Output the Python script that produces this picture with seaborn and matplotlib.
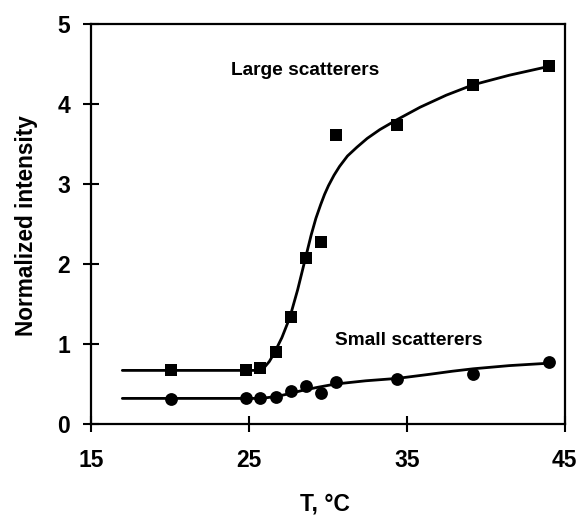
import numpy as np
import pandas as pd
import matplotlib
matplotlib.use("Agg")
import matplotlib.pyplot as plt
import seaborn as sns

# Measured points
temp = [20.1, 24.8, 25.7, 26.7, 27.7, 28.6, 29.6, 30.5, 34.4, 39.2, 44.0]
large = [0.67, 0.68, 0.70, 0.90, 1.34, 2.07, 2.28, 3.61, 3.74, 4.24, 4.47]
small = [0.31, 0.32, 0.33, 0.34, 0.41, 0.48, 0.39, 0.53, 0.56, 0.63, 0.77]

# Fitted curves
fit_large_t = [17.0, 25.7, 26.0, 26.3, 26.6, 27.1, 27.6, 28.1, 28.6, 28.95,
               29.25, 29.55, 29.8, 30.05, 30.4, 30.75, 31.25, 31.85, 32.5,
               33.3, 34.35, 35.85, 37.5, 39.2, 41.5, 44.0]
fit_large_y = [0.67, 0.67, 0.71, 0.78, 0.88, 1.08, 1.33, 1.68, 2.08, 2.36,
               2.57, 2.74, 2.87, 2.98, 3.11, 3.22, 3.35, 3.46, 3.57,
               3.68, 3.80, 3.96, 4.11, 4.24, 4.36, 4.47]
fit_small_t = [17.0, 25.4, 26.2, 26.9, 27.6, 28.4, 29.4, 30.5, 32.4, 34.4,
               36.4, 37.9, 39.2, 41.5, 44.0]
fit_small_y = [0.32, 0.32, 0.33, 0.35, 0.38, 0.42, 0.46, 0.50, 0.54, 0.57,
               0.62, 0.66, 0.69, 0.73, 0.76]

x_ticks = [15, 25, 35, 45]
y_ticks = [0, 1, 2, 3, 4, 5]

sns.set_style("ticks")
plt.rcParams["font.family"] = ["Liberation Sans", "DejaVu Sans"]
plt.rcParams["font.weight"] = "bold"
plt.rcParams["text.color"] = "black"
plt.rcParams["axes.labelcolor"] = "black"

fig = plt.figure(figsize=(5.79, 5.15), dpi=100)
ax = fig.add_axes([0.1567, 0.1767, 0.8186, 0.7767])

pts = pd.DataFrame({"T": temp, "large": large, "small": small})

sns.lineplot(x=fit_large_t, y=fit_large_y, color="black", lw=2, ax=ax)
sns.lineplot(x=fit_small_t, y=fit_small_y, color="black", lw=2, ax=ax)
sns.scatterplot(data=pts, x="T", y="large", marker="s", s=75,
                color="black", edgecolor="black", linewidth=0, ax=ax, zorder=3)
sns.scatterplot(data=pts, x="T", y="small", marker="o", s=85,
                color="black", edgecolor="black", linewidth=0, ax=ax, zorder=3)

ax.set_xlim(15, 45)
ax.set_ylim(0, 5)
ax.set_xticks(x_ticks)
ax.set_yticks(y_ticks)
ax.tick_params(direction="inout", length=12, width=1.5, labelsize=16.5,
               colors="black")
ax.tick_params(axis="x", pad=12)
ax.tick_params(axis="y", pad=9)
for lab in ax.get_xticklabels() + ax.get_yticklabels():
    lab.set_fontweight("bold")
for sp in ax.spines.values():
    sp.set_linewidth(1.6)
    sp.set_color("black")

ax.set_xlabel("T, °C", fontsize=16.5, fontweight="bold")
ax.set_ylabel("Normalized intensity", fontsize=16.3, fontweight="bold")
ax.xaxis.set_label_coords(0.494, -0.172)
ax.yaxis.set_label_coords(-0.112, 0.497)

ax.text(28.6, 4.42, "Large scatterers", fontsize=13.8, fontweight="bold",
        ha="center", va="center")
ax.text(35.1, 1.04, "Small scatterers", fontsize=13.8, fontweight="bold",
        ha="center", va="center")

plt.savefig("out.png", dpi=100)
plt.close()
